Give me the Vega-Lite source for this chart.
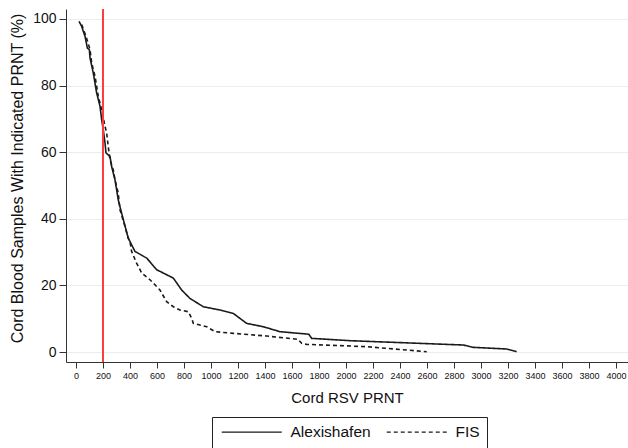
{
  "$schema": "https://vega.github.io/schema/vega-lite/v6.json",
  "width": 562,
  "height": 353,
  "autosize": {"type": "none"},
  "padding": {"left": 66, "top": 9, "right": 0, "bottom": 86},
  "background": "white",
  "config": {
    "view": {"stroke": null},
    "font": "Liberation Sans"
  },
  "datasets": {
    "curves": [
      {"prnt": 22, "pct": 99.3, "site": "Alexishafen"},
      {"prnt": 42, "pct": 97.8, "site": "Alexishafen"},
      {"prnt": 54, "pct": 96.3, "site": "Alexishafen"},
      {"prnt": 67, "pct": 94.8, "site": "Alexishafen"},
      {"prnt": 84, "pct": 91.3, "site": "Alexishafen"},
      {"prnt": 99, "pct": 90.8, "site": "Alexishafen"},
      {"prnt": 104, "pct": 88.3, "site": "Alexishafen"},
      {"prnt": 128, "pct": 83.8, "site": "Alexishafen"},
      {"prnt": 153, "pct": 77.8, "site": "Alexishafen"},
      {"prnt": 178, "pct": 73.8, "site": "Alexishafen"},
      {"prnt": 190, "pct": 69.8, "site": "Alexishafen"},
      {"prnt": 202, "pct": 66.8, "site": "Alexishafen"},
      {"prnt": 215, "pct": 62.8, "site": "Alexishafen"},
      {"prnt": 222, "pct": 59.8, "site": "Alexishafen"},
      {"prnt": 252, "pct": 58.7, "site": "Alexishafen"},
      {"prnt": 264, "pct": 55.7, "site": "Alexishafen"},
      {"prnt": 289, "pct": 51.7, "site": "Alexishafen"},
      {"prnt": 313, "pct": 45.7, "site": "Alexishafen"},
      {"prnt": 338, "pct": 41.7, "site": "Alexishafen"},
      {"prnt": 387, "pct": 34.2, "site": "Alexishafen"},
      {"prnt": 437, "pct": 30.2, "site": "Alexishafen"},
      {"prnt": 524, "pct": 28.2, "site": "Alexishafen"},
      {"prnt": 598, "pct": 24.7, "site": "Alexishafen"},
      {"prnt": 721, "pct": 22.2, "site": "Alexishafen"},
      {"prnt": 783, "pct": 18.6, "site": "Alexishafen"},
      {"prnt": 844, "pct": 16.1, "site": "Alexishafen"},
      {"prnt": 943, "pct": 13.6, "site": "Alexishafen"},
      {"prnt": 1067, "pct": 12.6, "site": "Alexishafen"},
      {"prnt": 1165, "pct": 11.6, "site": "Alexishafen"},
      {"prnt": 1264, "pct": 8.6, "site": "Alexishafen"},
      {"prnt": 1387, "pct": 7.6, "site": "Alexishafen"},
      {"prnt": 1511, "pct": 6.1, "site": "Alexishafen"},
      {"prnt": 1709, "pct": 5.4, "site": "Alexishafen"},
      {"prnt": 1725, "pct": 5.3, "site": "Alexishafen"},
      {"prnt": 1746, "pct": 4.1, "site": "Alexishafen"},
      {"prnt": 2030, "pct": 3.4, "site": "Alexishafen"},
      {"prnt": 2869, "pct": 2.1, "site": "Alexishafen"},
      {"prnt": 2943, "pct": 1.4, "site": "Alexishafen"},
      {"prnt": 3190, "pct": 0.9, "site": "Alexishafen"},
      {"prnt": 3264, "pct": 0.1, "site": "Alexishafen"},
      {"prnt": 42, "pct": 98.3, "site": "FIS"},
      {"prnt": 74, "pct": 94.8, "site": "FIS"},
      {"prnt": 104, "pct": 90.8, "site": "FIS"},
      {"prnt": 116, "pct": 86.8, "site": "FIS"},
      {"prnt": 141, "pct": 82.8, "site": "FIS"},
      {"prnt": 165, "pct": 76.8, "site": "FIS"},
      {"prnt": 190, "pct": 72.8, "site": "FIS"},
      {"prnt": 215, "pct": 67.8, "site": "FIS"},
      {"prnt": 227, "pct": 65.8, "site": "FIS"},
      {"prnt": 239, "pct": 61.7, "site": "FIS"},
      {"prnt": 252, "pct": 57.7, "site": "FIS"},
      {"prnt": 276, "pct": 54.7, "site": "FIS"},
      {"prnt": 289, "pct": 51.7, "site": "FIS"},
      {"prnt": 313, "pct": 47.7, "site": "FIS"},
      {"prnt": 326, "pct": 42.7, "site": "FIS"},
      {"prnt": 363, "pct": 37.7, "site": "FIS"},
      {"prnt": 387, "pct": 34.2, "site": "FIS"},
      {"prnt": 400, "pct": 33.2, "site": "FIS"},
      {"prnt": 412, "pct": 30.2, "site": "FIS"},
      {"prnt": 449, "pct": 26.7, "site": "FIS"},
      {"prnt": 487, "pct": 23.7, "site": "FIS"},
      {"prnt": 548, "pct": 21.7, "site": "FIS"},
      {"prnt": 585, "pct": 20.2, "site": "FIS"},
      {"prnt": 622, "pct": 18.6, "site": "FIS"},
      {"prnt": 672, "pct": 15.1, "site": "FIS"},
      {"prnt": 721, "pct": 13.6, "site": "FIS"},
      {"prnt": 770, "pct": 12.6, "site": "FIS"},
      {"prnt": 832, "pct": 12.1, "site": "FIS"},
      {"prnt": 857, "pct": 10.1, "site": "FIS"},
      {"prnt": 869, "pct": 8.6, "site": "FIS"},
      {"prnt": 968, "pct": 7.6, "site": "FIS"},
      {"prnt": 1030, "pct": 6.1, "site": "FIS"},
      {"prnt": 1165, "pct": 5.6, "site": "FIS"},
      {"prnt": 1412, "pct": 4.8, "site": "FIS"},
      {"prnt": 1645, "pct": 3.8, "site": "FIS"},
      {"prnt": 1672, "pct": 2.6, "site": "FIS"},
      {"prnt": 1709, "pct": 2.3, "site": "FIS"},
      {"prnt": 2153, "pct": 1.6, "site": "FIS"},
      {"prnt": 2598, "pct": 0.1, "site": "FIS"}
    ]
  },
  "encoding": {
    "x": {
      "field": "prnt",
      "type": "quantitative",
      "scale": {"domain": [-74, 4089], "nice": false, "zero": false},
      "axis": {
        "title": "Cord RSV PRNT",
        "values": [0, 200, 400, 600, 800, 1000, 1200, 1400, 1600, 1800, 2000, 2200, 2400, 2600, 2800, 3000, 3200, 3400, 3600, 3800, 4000],
        "format": "d",
        "grid": false,
        "domainColor": "#333333",
        "tickColor": "#333333",
        "tickSize": 6,
        "labelFontSize": 9,
        "labelColor": "#111111",
        "labelPadding": 3,
        "labelFlush": false,
        "labelOverlap": false,
        "labelBound": false,
        "titleFontSize": 15,
        "titleFontWeight": "normal",
        "titleColor": "#111111",
        "titlePadding": 10
      }
    }
  },
  "layer": [
    {
      "data": {"name": "curves"},
      "mark": {"type": "line", "color": "#1a1a1a", "strokeWidth": 1.6},
      "encoding": {
        "y": {
          "field": "pct",
          "type": "quantitative",
          "scale": {"domain": [-3, 103], "nice": false, "zero": false},
          "axis": {
            "title": "Cord Blood Samples With Indicated PRNT (%)",
            "values": [0, 20, 40, 60, 80, 100],
            "grid": true,
            "gridColor": "#e6f0f0",
            "domainColor": "#333333",
            "tickColor": "#333333",
            "tickSize": 7,
            "labelFontSize": 14,
            "labelColor": "#111111",
            "labelPadding": 3,
            "labelFlush": false,
            "titleFontSize": 16,
            "titleFontWeight": "normal",
            "titleColor": "#111111",
            "titlePadding": 7,
            "titleY": 169
          }
        },
        "strokeDash": {
          "field": "site",
          "type": "nominal",
          "scale": {"domain": ["Alexishafen", "FIS"], "range": [[1, 0], [4, 3]]},
          "legend": {
            "title": null,
            "orient": "none",
            "legendX": 146,
            "legendY": 408,
            "direction": "horizontal",
            "strokeColor": "#222222",
            "padding": 7,
            "symbolType": "M-1,0H11",
            "symbolSize": 100,
            "symbolStrokeColor": "#1a1a1a",
            "symbolStrokeWidth": 1.4,
            "labelFontSize": 15.5,
            "labelColor": "#111111",
            "labelOffset": 56,
            "columnPadding": 12
          }
        }
      }
    },
    {
      "data": {"values": [{"prnt": 200}]},
      "mark": {"type": "rule", "color": "#ff3b3b", "strokeWidth": 2},
      "encoding": {}
    }
  ]
}
